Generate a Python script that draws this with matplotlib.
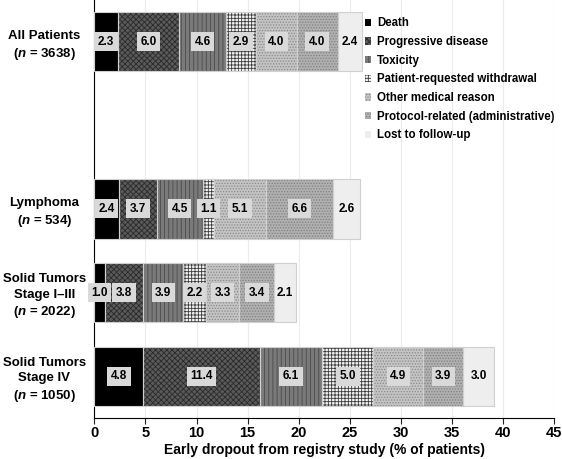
import numpy as np
import matplotlib.pyplot as plt
from matplotlib.patches import Patch

plt.rcParams['font.family'] = ['Liberation Sans', 'DejaVu Sans']
plt.rcParams['font.weight'] = 'bold'
plt.rcParams['axes.labelweight'] = 'bold'
plt.rcParams['mathtext.fontset'] = 'custom'
plt.rcParams['mathtext.it'] = 'Liberation Sans:italic:bold'
plt.rcParams['mathtext.rm'] = 'Liberation Sans:bold'
plt.rcParams['hatch.linewidth'] = 0.6

groups = ['All Patients\n($n$ = 3638)', 'Lymphoma\n($n$ = 534)',
          'Solid Tumors\nStage I\u2013III\n($n$ = 2022)',
          'Solid Tumors\nStage IV\n($n$ = 1050)']
ypos = [0, 2, 3, 4]
reasons = ['Death', 'Progressive disease', 'Toxicity', 'Patient-requested withdrawal',
           'Other medical reason', 'Protocol-related (administrative)', 'Lost to follow-up']
values = np.array([
    [2.3, 6.0, 4.6, 2.9, 4.0, 4.0, 2.4],
    [2.4, 3.7, 4.5, 1.1, 5.1, 6.6, 2.6],
    [1.0, 3.8, 3.9, 2.2, 3.3, 3.4, 2.1],
    [4.8, 11.4, 6.1, 5.0, 4.9, 3.9, 3.0],
])

faces = ['#000000', '#5a5a5a', '#7a7a7a', '#f4f4f4', '#c4c4c4', '#b0b0b0', '#eeeeee']
hatches = [None, 'xxxxxx', '||||', '+++++', '......', '......', None]
hcolors = ['#000000', '#2a2a2a', '#4a4a4a', '#3a3a3a', '#8a8a8a', '#808080', '#eeeeee']

fig = plt.figure(figsize=(5.62, 4.59), dpi=100)
ax = fig.add_axes([0.168, 0.0893, 0.818, 0.911])

left = np.zeros(len(ypos))
h = 0.71
for i, r in enumerate(reasons):
    v = values[:, i]
    ax.barh(ypos, v, left=left, height=h, color=faces[i], hatch=hatches[i],
            edgecolor=hcolors[i], linewidth=0, zorder=2)
    ax.barh(ypos, v, left=left, height=h, fill=False, edgecolor='#d0d0d0',
            linewidth=0.8, zorder=3)
    for y, l, val in zip(ypos, left, v):
        if i < 6:
            ax.text(l + val / 2, y, f'{val:.1f}', ha='center', va='center', fontsize=8.5,
                    zorder=4, bbox=dict(boxstyle='square,pad=0.3', fc='#d9d9d9', ec='none'))
        else:
            ax.text(l + val / 2, y, f'{val:.1f}', ha='center', va='center', fontsize=8.5, zorder=4)
    left += v

handles = [Patch(facecolor=faces[i], hatch=hatches[i], edgecolor=hcolors[i], linewidth=0)
           for i in range(len(reasons))]
ax.legend(handles, reasons, loc='upper left', bbox_to_anchor=(0.575, 0.972), frameon=False,
          fontsize=8.3, handlelength=0.6, handleheight=0.6, handletextpad=0.5, labelspacing=0.58,
          borderpad=0)

ax.set_xlim(0, 45)
ax.set_ylim(4.5, -0.5)
ax.set_xticks(np.arange(0, 46, 5))
ax.set_yticks(ypos)
ax.set_yticklabels(groups, ha='center', fontsize=9.5, fontweight='bold', linespacing=1.35)
ax.set_xticklabels([str(t) for t in range(0, 46, 5)], fontsize=10.5, fontweight='bold')
ax.tick_params(axis='y', length=0, pad=36)
ax.tick_params(axis='x', length=4, pad=2, color='#222222')
ax.xaxis.grid(True, color='#ececec', linewidth=0.8, zorder=0)
ax.set_axisbelow(True)
for s in ['top', 'right']:
    ax.spines[s].set_visible(False)
ax.set_xlabel('Early dropout from registry study (% of patients)', fontsize=10,
              fontweight='bold', labelpad=2)

fig.savefig('out.png', dpi=100)
